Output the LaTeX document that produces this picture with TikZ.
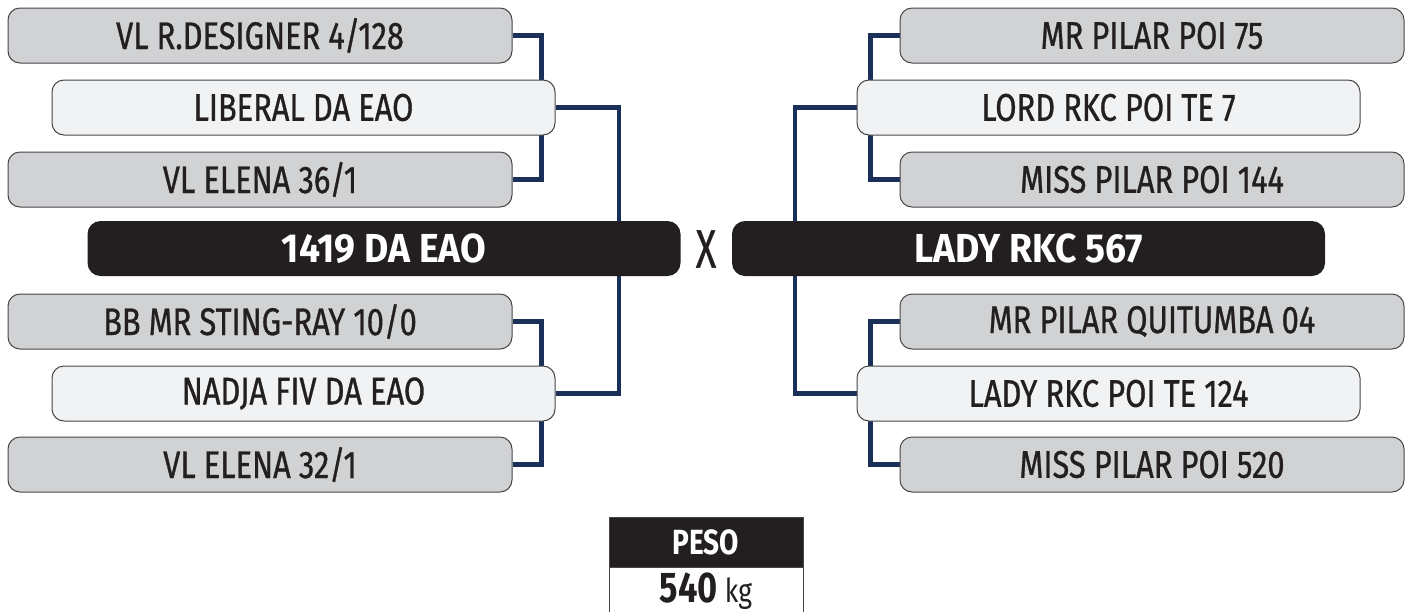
\documentclass[tikz,border=0pt]{standalone}
\usepackage{fontspec}
\setmainfont{Fira Sans}[FakeStretch=0.88]
\newfontfamily\gfont{Fira Sans}[FakeStretch=0.8, FakeBold=0.8]
\newfontfamily\bfont{Fira Sans}[FakeStretch=0.92]
\newfontfamily\pfont{Fira Sans}[FakeStretch=0.8]
\newfontfamily\xfont{Fira Sans}[FakeStretch=0.7, FakeBold=0.6]
\usetikzlibrary{backgrounds,calc}
\definecolor{navy}{RGB}{27,48,88}
\definecolor{gfill}{RGB}{209,210,212}
\definecolor{lfill}{RGB}{241,242,243}
\definecolor{dark}{RGB}{35,31,32}
\definecolor{edge}{RGB}{70,70,72}
\tikzset{
  x=1pt, y=-1pt,
  gbox/.style={draw=edge, line width=1pt, fill=gfill, rounded corners=12pt,
    minimum width=504pt, minimum height=55pt, inner sep=0pt,
    font=\gfont\fontsize{38.5}{38.5}\selectfont, text=dark},
  lbox/.style={gbox, fill=lfill, minimum width=503pt},
  bbox/.style={fill=dark, rounded corners=13pt, minimum width=593pt,
    minimum height=55pt, inner sep=0pt, text=white,
    font=\bfont\fontsize{40.5}{40.5}\selectfont\bfseries},
  conn/.style={draw=navy, line width=4.4pt},
}
\begin{document}
\begin{tikzpicture}
\useasboundingbox (0,0) rectangle (1412,611);
% left side
\node[gbox] (l1) at (260,35.5) {VL R.DESIGNER 4/128};
\node[lbox] (l2) at (303.5,107.5) {LIBERAL DA EAO};
\node[gbox] (l3) at (260,179.5) {VL ELENA 36/1};
\node[bbox] (b1) at (384,248.5) {1419 DA EAO};
\node[gbox] (l4) at (260,321.5) {BB MR STING-RAY 10/0};
\node[lbox] (l5) at (303.5,393.5) {NADJA FIV DA EAO};
\node[gbox] (l6) at (260,464.5) {VL ELENA 32/1};
% centre
\node[font=\xfont\fontsize{54}{54}\selectfont, text=dark, inner sep=0pt] (x) at (706,249) {X};
% right side
\node[gbox] (r1) at (1152,35.5) {MR PILAR POI 75};
\node[lbox] (r2) at (1108.5,107.5) {LORD RKC POI TE 7};
\node[gbox] (r3) at (1152,179.5) {MISS PILAR POI 144};
\node[bbox] (b2) at (1028.5,248.5) {LADY RKC 567};
\node[gbox] (r4) at (1152,321.5) {MR PILAR QUITUMBA 04};
\node[lbox] (r5) at (1108.5,393.5) {LADY RKC POI TE 124};
\node[gbox] (r6) at (1152,464.5) {MISS PILAR POI 520};
% weight box
\node[fill=dark, draw=edge, line width=0.8pt, minimum width=194pt, minimum height=50pt, inner sep=0pt,
  text=white, font=\pfont\fontsize{35}{35}\selectfont\bfseries] (peso) at (706,542) {PESO};
\node[fill=white, draw=edge, line width=0.8pt, minimum width=194pt, minimum height=46pt, inner sep=0pt,
  anchor=north, text=dark] (val) at (peso.south) {\pfont\fontsize{43}{43}\selectfont\bfseries 540\fontsize{33}{33}\selectfont\mdseries\ kg};
\begin{scope}[on background layer]
\draw[conn] (l1.east) -- ++(29,0) |- (l3.east);
\draw[conn] (l4.east) -- ++(29,0) |- (l6.east);
\draw[conn] (l2.east) -| ([xshift=-62pt]b1.north east);
\draw[conn] (l5.east) -| ([xshift=-62pt]b1.south east);
\draw[conn] (r1.west) -- ++(-29,0) |- (r3.west);
\draw[conn] (r4.west) -- ++(-29,0) |- (r6.west);
\draw[conn] (r2.west) -| ([xshift=63pt]b2.north west);
\draw[conn] (r5.west) -| ([xshift=63pt]b2.south west);
\end{scope}
\end{tikzpicture}
\end{document}
